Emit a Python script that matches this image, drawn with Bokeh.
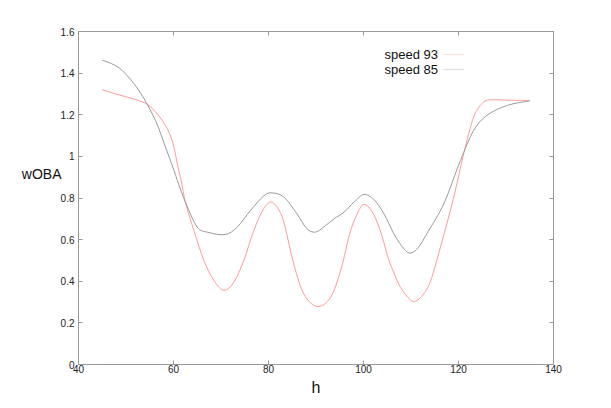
from bokeh.plotting import figure
from bokeh.models import (Range1d, LinearAxis, Label, Arrow, FixedTicker,
                          ColumnDataSource, CustomJSTickFormatter)
from bokeh.embed import file_html
from bokeh.resources import INLINE

# ---- data ----
h_93 = [45, 47.8, 52, 54.8, 57.6, 59.7, 61.1, 61.6, 62.5, 64.3, 66.4, 68.5, 70.6, 72.7,
        74.8, 76.9, 79, 80.6, 82.5, 83.5, 85.3, 87.4, 90.3, 93.1, 95.2, 97.3, 99.4,
        100.4, 101.8, 103.2, 104.3, 105.3, 106.4, 107.8, 109.9, 111, 112.7, 114.1,
        116.2, 119, 121.1, 123.2, 125.3, 127.4, 130, 135]
woba_93 = [1.32, 1.30, 1.273, 1.245, 1.173, 1.077, 0.933, 0.885, 0.78, 0.644, 0.50,
           0.404, 0.356, 0.396, 0.50, 0.644, 0.749, 0.78, 0.73, 0.66, 0.484, 0.34,
           0.279, 0.324, 0.452, 0.644, 0.756, 0.768, 0.735, 0.665, 0.585, 0.505, 0.44,
           0.37, 0.31, 0.304, 0.34, 0.40, 0.564, 0.804, 1.013, 1.189, 1.261, 1.272,
           1.27, 1.269]

h_85 = [45, 47, 49.2, 52.7, 56.2, 58.3, 60.1, 60.8, 62.5, 65, 67.1, 71, 73.4, 76.2,
        79, 80.4, 83.2, 86, 88.1, 89.9, 91.6, 93.8, 95.9, 98, 100.1, 102.2, 104.3,
        106.4, 108.5, 109.9, 111.6, 113.5, 116.9, 120.4, 123.2, 126, 130.3, 135]
woba_85 = [1.462, 1.445, 1.413, 1.317, 1.173, 1.045, 0.933, 0.885, 0.78, 0.66, 0.636,
           0.625, 0.66, 0.74, 0.81, 0.825, 0.805, 0.724, 0.652, 0.636, 0.66, 0.70,
           0.732, 0.78, 0.817, 0.792, 0.724, 0.628, 0.556, 0.535, 0.564, 0.635,
           0.772, 0.98, 1.125, 1.197, 1.245, 1.267]

x_ticks = [40, 60, 80, 100, 120, 140]
y_ticks = [0, 0.2, 0.4, 0.6, 0.8, 1.0, 1.2, 1.4, 1.6]
y_tick_labels = {0: "0", 0.2: "0.2", 0.4: "0.4", 0.6: "0.6", 0.8: "0.8", 1.0: "1",
                 1.2: "1.2", 1.4: "1.4", 1.6: "1.6"}
series_names = ["speed 93", "speed 85"]
y_title = "wOBA"
x_title = "h"

RED = "#ff9a9a"
GRAY = "#9a9a9a"
AXIS = "#999999"
FONT = "Liberation Sans"

p = figure(width=595, height=400, output_backend="svg", toolbar_location=None,
           x_range=Range1d(40, 140), y_range=Range1d(0, 1.6),
           min_border_left=78, min_border_right=42, min_border_top=31,
           min_border_bottom=36)
p.grid.visible = False
p.outline_line_color = AXIS
p.background_fill_color = "white"
p.border_fill_color = "white"


def draw_curve(xs, ys, color):
    """Smooth curve through the read points: cubic Hermite segments drawn as Beziers."""
    n = len(xs)
    m = []
    for i in range(n):
        a = max(i - 1, 0)
        b = min(i + 1, n - 1)
        m.append((ys[b] - ys[a]) / (xs[b] - xs[a]))
    d = dict(x0=[], y0=[], x1=[], y1=[], cx0=[], cy0=[], cx1=[], cy1=[])
    for i in range(n - 1):
        dx = xs[i + 1] - xs[i]
        d["x0"].append(xs[i]); d["y0"].append(ys[i])
        d["x1"].append(xs[i + 1]); d["y1"].append(ys[i + 1])
        d["cx0"].append(xs[i] + dx / 3); d["cy0"].append(ys[i] + m[i] * dx / 3)
        d["cx1"].append(xs[i + 1] - dx / 3); d["cy1"].append(ys[i + 1] - m[i + 1] * dx / 3)
    p.bezier(x0="x0", y0="y0", x1="x1", y1="y1", cx0="cx0", cy0="cy0",
             cx1="cx1", cy1="cy1", source=ColumnDataSource(d),
             line_color=color, line_width=1)


draw_curve(h_93, woba_93, RED)
draw_curve(h_85, woba_85, GRAY)


def style(ax, labels=True):
    ax.axis_line_color = AXIS
    ax.major_tick_line_color = AXIS
    ax.major_tick_in = 4
    ax.major_tick_out = 0
    ax.minor_tick_line_color = None
    ax.major_label_text_font = FONT
    ax.major_label_text_color = "#222222" if labels else None
    ax.major_label_text_font_size = "10px"
    ax.major_label_standoff = 2


style(p.xaxis[0])
style(p.yaxis[0])
p.xaxis[0].ticker = FixedTicker(ticks=x_ticks)
p.yaxis[0].ticker = FixedTicker(ticks=y_ticks)
p.yaxis[0].major_label_overrides = y_tick_labels
p.yaxis[0].major_label_standoff = 4
p.xaxis[0].major_label_standoff = 0
p.xaxis[0].axis_label = x_title
p.xaxis[0].axis_label_text_font = FONT
p.xaxis[0].axis_label_text_font_style = "normal"
p.xaxis[0].axis_label_text_font_size = "16px"
p.xaxis[0].axis_label_text_color = "#111111"
p.xaxis[0].axis_label_standoff = 3

top = LinearAxis(ticker=FixedTicker(ticks=x_ticks))
style(top, labels=False)
p.add_layout(top, "above")
right = LinearAxis(ticker=FixedTicker(ticks=y_ticks))
style(right, labels=False)
p.add_layout(right, "right")

# y title drawn as a single tick label of an extra left axis, at the reference height
ytitle_axis = LinearAxis(ticker=FixedTicker(ticks=[0.915]),
                         formatter=CustomJSTickFormatter(code="return '%s'" % y_title))
ytitle_axis.axis_line_color = None
ytitle_axis.major_tick_line_color = None
ytitle_axis.minor_tick_line_color = None
ytitle_axis.major_tick_in = 0
ytitle_axis.major_tick_out = 0
ytitle_axis.major_label_standoff = -4
ytitle_axis.major_label_text_font = FONT
ytitle_axis.major_label_text_font_size = "14px"
ytitle_axis.major_label_text_color = "#111111"
p.add_layout(ytitle_axis, "left")

# legend (text left, sample line right)
leg_y = [1.49, 1.418]
for name, col, yy in zip(series_names, [RED, GRAY], leg_y):
    p.add_layout(Label(x=115.7, y=yy, text=name, text_align="right",
                       text_baseline="middle", text_font=FONT, text_font_size="13px",
                       text_color="#111111"))
    p.add_layout(Arrow(end=None, x_start=116.8, y_start=yy, x_end=121.2, y_end=yy,
                       line_color=col, line_alpha=0.35, line_width=1))

open("out.html", "w").write(file_html(p, INLINE))
